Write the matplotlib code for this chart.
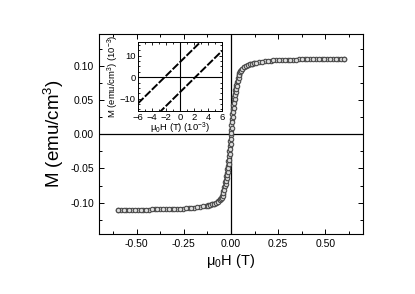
import matplotlib
matplotlib.use('Agg')
import matplotlib.pyplot as plt
from matplotlib.ticker import MultipleLocator

plt.rcParams['font.family'] = ['Liberation Sans', 'DejaVu Sans']
plt.rcParams['mathtext.fontset'] = 'custom'
plt.rcParams['mathtext.rm'] = 'Liberation Sans'
plt.rcParams['mathtext.it'] = 'Liberation Sans:italic'

# descending field branch (T, emu/cm^3)
h_down = [0.60, 0.57, 0.54, 0.51, 0.48, 0.45, 0.42, 0.39, 0.36, 0.33, 0.30, 0.27, 0.24, 0.21, 0.18, 0.15,
          0.12, 0.11, 0.10, 0.09, 0.08, 0.07, 0.06, 0.055, 0.05, 0.045, 0.04, 0.035,
          0.03, 0.0275, 0.025, 0.0225, 0.02, 0.0175, 0.015, 0.0125, 0.01, 0.0075, 0.005, 0.0025, 0.0,
          -0.0025, -0.005, -0.0075, -0.01, -0.0125, -0.015, -0.0175, -0.02, -0.0225, -0.025, -0.0275, -0.03,
          -0.035, -0.04, -0.045, -0.05, -0.055, -0.06, -0.07, -0.08, -0.09, -0.10, -0.11, -0.12,
          -0.135, -0.165, -0.195, -0.225, -0.255, -0.285, -0.315, -0.345, -0.375, -0.405, -0.435, -0.465,
          -0.495, -0.525, -0.555, -0.585, -0.60]
m_down = [0.1108, 0.1107, 0.1106, 0.1105, 0.1104, 0.1103, 0.1101, 0.1099, 0.1097, 0.1095, 0.1092, 0.1089, 0.1085, 0.1079, 0.1070, 0.1057,
          0.1043, 0.1035, 0.1026, 0.1017, 0.1005, 0.0988, 0.0963, 0.0948, 0.0927, 0.0900, 0.0865, 0.0820,
          0.0761, 0.0727, 0.0687, 0.0646, 0.0598, 0.0549, 0.0492, 0.0432, 0.0369, 0.0295, 0.0221, 0.0144, 0.0064,
          -0.0016, -0.0096, -0.0175, -0.0251, -0.0324, -0.0391, -0.0457, -0.0514, -0.0570, -0.0617, -0.0663, -0.0703,
          -0.0775, -0.0830, -0.0873, -0.0906, -0.0932, -0.0952, -0.0981, -0.1000, -0.1014, -0.1024, -0.1033, -0.1041,
          -0.1050, -0.1063, -0.1075, -0.1082, -0.1087, -0.1091, -0.1094, -0.1096, -0.1098, -0.1100, -0.1102, -0.1103,
          -0.1105, -0.1106, -0.1107, -0.1108, -0.1108]

# ascending field branch
h_up = [-0.60, -0.57, -0.54, -0.51, -0.48, -0.45, -0.42, -0.39, -0.36, -0.33, -0.30, -0.27, -0.24, -0.21, -0.18, -0.15,
        -0.12, -0.11, -0.10, -0.09, -0.08, -0.07, -0.06, -0.055, -0.05, -0.045, -0.04, -0.035,
        -0.03, -0.0275, -0.025, -0.0225, -0.02, -0.0175, -0.015, -0.0125, -0.01, -0.0075, -0.005, -0.0025, 0.0,
        0.0025, 0.005, 0.0075, 0.01, 0.0125, 0.015, 0.0175, 0.02, 0.0225, 0.025, 0.0275, 0.03,
        0.035, 0.04, 0.045, 0.05, 0.055, 0.06, 0.07, 0.08, 0.09, 0.10, 0.11, 0.12,
        0.135, 0.165, 0.195, 0.225, 0.255, 0.285, 0.315, 0.345, 0.375, 0.405, 0.435, 0.465,
        0.495, 0.525, 0.555, 0.585, 0.60]
m_up = [-0.1108, -0.1107, -0.1106, -0.1105, -0.1104, -0.1103, -0.1101, -0.1099, -0.1097, -0.1095, -0.1092, -0.1089, -0.1085, -0.1079, -0.1070, -0.1057,
        -0.1043, -0.1035, -0.1026, -0.1017, -0.1005, -0.0988, -0.0963, -0.0948, -0.0927, -0.0900, -0.0865, -0.0820,
        -0.0761, -0.0727, -0.0687, -0.0646, -0.0598, -0.0549, -0.0492, -0.0432, -0.0369, -0.0295, -0.0221, -0.0144, -0.0064,
        0.0016, 0.0096, 0.0175, 0.0251, 0.0324, 0.0391, 0.0457, 0.0514, 0.0570, 0.0617, 0.0663, 0.0703,
        0.0775, 0.0830, 0.0873, 0.0906, 0.0932, 0.0952, 0.0981, 0.1000, 0.1014, 0.1024, 0.1033, 0.1041,
        0.1050, 0.1063, 0.1075, 0.1082, 0.1087, 0.1091, 0.1094, 0.1096, 0.1098, 0.1100, 0.1102, 0.1103,
        0.1105, 0.1106, 0.1107, 0.1108, 0.1108]

# inset: low-field part, in units of 1e-3
inset_h = [-6, -4, -2, 0, 2, 4, 6]
inset_m_down = [-12.2, -5.8, 0.6, 7.0, 13.4, 19.8, 26.2]
inset_m_up = [-26.2, -19.8, -13.4, -7.0, -0.6, 5.8, 12.2]

fig = plt.figure(figsize=(4.15, 2.94), dpi=100)
ax = fig.add_axes([0.2386, 0.2041, 0.6361, 0.6803])

for h, m in [(h_down, m_down), (h_up, m_up)]:
    ax.plot(h, m, color='#1e1e1e', lw=1.6, zorder=2)
    ax.plot(h, m, 'o', ms=3.2, mfc='#dcdcdc', mec='#4a4a4a', mew=0.8, zorder=3)

ax.axhline(0, color='black', lw=0.9, zorder=1)
ax.axvline(0, color='black', lw=0.9, zorder=1)

ax.set_xlim(-0.7, 0.7)
ax.set_ylim(-0.146, 0.147)
ax.set_xticks([-0.50, -0.25, 0.00, 0.25, 0.50])
ax.set_yticks([-0.10, -0.05, 0.00, 0.05, 0.10])
ax.xaxis.set_minor_locator(MultipleLocator(0.125))
ax.yaxis.set_minor_locator(MultipleLocator(0.025))
ax.xaxis.set_major_formatter(plt.FormatStrFormatter('%.2f'))
ax.yaxis.set_major_formatter(plt.FormatStrFormatter('%.2f'))
ax.tick_params(which='both', direction='in', top=True, right=True, labelsize=7.5, width=0.7)
ax.tick_params(which='major', length=3.5)
ax.tick_params(which='minor', length=2)
for s in ax.spines.values():
    s.set_linewidth(0.8)
ax.set_xlabel(r'$\mathrm{\mu_0}$H (T)', fontsize=10.5, labelpad=2)
ax.set_ylabel(r'M (emu/cm$^{3}$)', fontsize=13.5, labelpad=3)

ins = fig.add_axes([0.3325, 0.622, 0.2024, 0.2347])
ins.plot(inset_h, inset_m_down, color='black', lw=1.4, dashes=(4, 1))
ins.plot(inset_h, inset_m_up, color='black', lw=1.4, dashes=(4, 1))
ins.axhline(0, color='black', lw=0.8)
ins.axvline(0, color='black', lw=0.8)
ins.set_xlim(-6, 6)
ins.set_ylim(-15.8, 16.3)
ins.set_xticks([-6, -4, -2, 0, 2, 4, 6])
ins.set_yticks([-10, 0, 10])
ins.xaxis.set_minor_locator(MultipleLocator(1))
ins.yaxis.set_minor_locator(MultipleLocator(2.5))
ins.tick_params(which='both', direction='in', top=True, right=True, labelsize=6.8, pad=1.5, width=0.6)
ins.tick_params(which='major', length=2.5)
ins.tick_params(which='minor', length=1.5)
for s in ins.spines.values():
    s.set_linewidth(0.7)
ins.set_xlabel(r'$\mathrm{\mu_0}$H (T) (10$^{-3}$)', fontsize=6.8, labelpad=-1)
ins.set_ylabel(r'M (emu/cm$^{3}$) (10$^{-3}$)', fontsize=6.8, labelpad=-1)

fig.savefig('out.png', dpi=100)
